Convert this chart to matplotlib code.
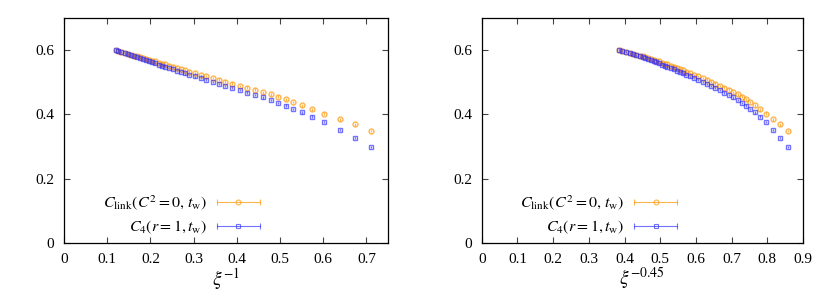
import matplotlib
matplotlib.use("Agg")
import matplotlib.pyplot as plt
from matplotlib.legend_handler import HandlerBase
from matplotlib.lines import Line2D
import numpy as np

plt.rcParams['font.family'] = ['Liberation Serif', 'DejaVu Serif']
plt.rcParams['mathtext.fontset'] = 'stix'

# inverse correlation length xi^-1 (shared by both series)
xi_inv = [0.120, 0.126, 0.133, 0.142, 0.149, 0.156, 0.163, 0.170, 0.176, 0.183,
          0.190, 0.197, 0.204, 0.211, 0.219, 0.227, 0.234, 0.243, 0.252, 0.262,
          0.271, 0.280, 0.290, 0.303, 0.316, 0.329, 0.344, 0.359, 0.372, 0.390,
          0.407, 0.423, 0.441, 0.460, 0.478, 0.496, 0.513, 0.531, 0.550, 0.574,
          0.601, 0.638, 0.673, 0.711]

c_link = [0.600, 0.598, 0.595, 0.591, 0.589, 0.586, 0.583, 0.581, 0.578, 0.575,
          0.573, 0.570, 0.567, 0.565, 0.561, 0.558, 0.556, 0.552, 0.549, 0.545,
          0.541, 0.538, 0.533, 0.528, 0.523, 0.519, 0.513, 0.508, 0.502, 0.496,
          0.489, 0.483, 0.477, 0.469, 0.462, 0.455, 0.447, 0.438, 0.428, 0.416,
          0.402, 0.385, 0.369, 0.348]

c4 = [0.600, 0.597, 0.594, 0.590, 0.587, 0.584, 0.581, 0.578, 0.575, 0.572,
      0.568, 0.565, 0.562, 0.559, 0.555, 0.552, 0.549, 0.545, 0.541, 0.536,
      0.532, 0.528, 0.523, 0.518, 0.514, 0.508, 0.501, 0.495, 0.489, 0.483,
      0.476, 0.468, 0.461, 0.453, 0.445, 0.436, 0.427, 0.417, 0.406, 0.393,
      0.377, 0.352, 0.327, 0.299]

err = 0.004

xi = 1.0 / np.array(xi_inv)

ORANGE = '#ff9a10'
BLUE = '#2828ff'


class HErrHandler(HandlerBase):
    # gnuplot-like key sample: horizontal bar with end caps and the marker in the middle
    def create_artists(self, legend, orig_handle, xdescent, ydescent,
                       width, height, fontsize, trans):
        y = height / 2 - ydescent
        bar = Line2D([-xdescent, width - xdescent], [y, y], color=orig_handle.get_color(),
                     lw=0.8, marker='|', markersize=5, markeredgewidth=0.8,
                     alpha=orig_handle.get_alpha(), transform=trans)
        mk = Line2D([(width - 2 * xdescent) / 2], [y], linestyle='none',
                    marker=orig_handle.get_marker(), markersize=3.5,
                    markerfacecolor='none', markeredgecolor=orig_handle.get_color(),
                    markeredgewidth=0.8, alpha=orig_handle.get_alpha(), transform=trans)
        return [bar, mk]


fig = plt.figure(figsize=(8.3, 3.02), dpi=100)
ax1 = fig.add_axes([0.0771, 0.1954, 0.3904, 0.745])
ax2 = fig.add_axes([0.5804, 0.1954, 0.3871, 0.745])

panels = [(ax1, xi ** -1.0, 0.75, np.arange(0, 0.71, 0.1), r'$\xi^{-1}$'),
          (ax2, xi ** -0.45, 0.9, np.arange(0, 0.91, 0.1), r'$\xi^{-0.45}$')]

for ax, xv, xmax, xt, lab in panels:
    ax.errorbar(xv, c_link, yerr=err, fmt='o', ms=3.5, mfc='none', mec=ORANGE,
                mew=1.0, ecolor=ORANGE, elinewidth=0.9, capsize=0, alpha=0.75)
    ax.errorbar(xv, c4, yerr=err, fmt='s', ms=3.5, mfc='none', mec=BLUE,
                mew=1.0, ecolor=BLUE, elinewidth=0.9, capsize=0, alpha=0.65)
    ax.set_xlim(0, xmax)
    ax.set_ylim(0, 0.7)
    ax.set_xticks(xt)
    ax.set_xticklabels(['0' if v == 0 else '%.1f' % v for v in xt])
    ax.set_yticks([0, 0.2, 0.4, 0.6])
    ax.set_yticklabels(['0', '0.2', '0.4', '0.6'])
    ax.tick_params(direction='in', top=True, right=True, length=4, width=0.8,
                   labelsize=11, pad=7, color='#444444')
    for s in ax.spines.values():
        s.set_linewidth(0.9)
    ax.set_xlabel(lab, fontsize=14, labelpad=0)

    h1 = Line2D([], [], color=ORANGE, marker='o', alpha=0.75)
    h2 = Line2D([], [], color=BLUE, marker='s', alpha=0.65)
    ax.legend([h1, h2],
              [r'$C_{\mathrm{link}}(C^2 = 0,\, t_{\mathrm{w}})$', r'$C_4(r = 1, t_{\mathrm{w}})$'],
              handler_map={Line2D: HErrHandler()}, loc='lower left',
              bbox_to_anchor=(0.075, -0.035), markerfirst=False, frameon=False,
              fontsize=11.5, handlelength=2.7, handletextpad=0.6, labelspacing=0.45)

fig.savefig('out.png', dpi=100)
